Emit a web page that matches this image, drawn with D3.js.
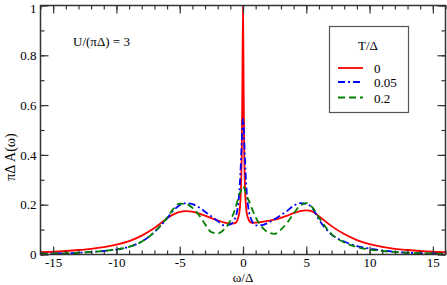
<!DOCTYPE html>
<html>
<head>
<meta charset="utf-8">
<script src="https://cdn.jsdelivr.net/npm/d3@7"></script>
<style>
  body { margin: 0; background: #fff; }
  svg { display: block; }
  text { font-family: "Liberation Serif", "DejaVu Serif", serif; fill: #000; }
</style>
</head>
<body>
<svg id="canvas" width="447" height="285"></svg>
<script>
// omega / Delta grid
let omega = [-16,-15,-14,-13,-12,-11,-10,-9,-8,-7,-6,-5.5,-5,-4.5,-4,-3.5,-3,-2.5,-2,-1.5,-1,-0.7,-0.5,-0.4,-0.3,-0.2,-0.1,-0.05,0,
             0.05,0.1,0.2,0.3,0.4,0.5,0.7,1,1.5,2,2.5,3,3.5,4,4.5,5,5.5,6,7,8,9,10,11,12,13,14,15,16]

// pi Delta A(omega), T/Delta = 0
let specT0 = [0.009,0.011,0.014,0.018,0.023,0.030,0.040,0.054,0.076,0.106,0.145,0.161,0.171,0.174,0.172,0.165,0.156,0.146,0.137,0.129,0.124,0.125,0.132,0.145,0.165,0.22,0.40,0.68,1.0,
              0.68,0.40,0.22,0.166,0.146,0.134,0.127,0.128,0.131,0.135,0.140,0.147,0.156,0.166,0.174,0.177,0.172,0.154,0.114,0.082,0.058,0.042,0.031,0.023,0.018,0.014,0.011,0.009]

// T/Delta = 0.05
let specT005 = [0.003,0.004,0.005,0.007,0.010,0.014,0.020,0.031,0.052,0.090,0.145,0.177,0.198,0.206,0.202,0.190,0.172,0.153,0.134,0.117,0.121,0.138,0.165,0.195,0.245,0.33,0.45,0.52,0.545,
                0.52,0.45,0.33,0.245,0.195,0.165,0.135,0.117,0.118,0.128,0.142,0.158,0.176,0.196,0.206,0.203,0.185,0.140,0.080,0.052,0.034,0.024,0.016,0.011,0.007,0.005,0.004,0.003]

// T/Delta = 0.2
let specT02 = [0.003,0.004,0.005,0.007,0.010,0.014,0.020,0.031,0.052,0.090,0.148,0.183,0.204,0.203,0.187,0.160,0.122,0.090,0.085,0.100,0.136,0.172,0.205,0.222,0.238,0.252,0.266,0.271,0.274,
               0.271,0.266,0.252,0.238,0.222,0.212,0.185,0.150,0.110,0.089,0.083,0.100,0.128,0.164,0.196,0.206,0.188,0.148,0.082,0.048,0.030,0.020,0.014,0.010,0.007,0.005,0.004,0.003]

let seriesNames = ["0", "0.05", "0.2"]
let seriesColors = ["#ff0000", "#0000ff", "#008000"]
let seriesDash = ["none", "7,3,2,3", "7,4"]
let seriesValues = [specT0, specT005, specT02]

let xTicks = [-15, -10, -5, 0, 5, 10, 15]
let yTicks = [0, 0.2, 0.4, 0.6, 0.8, 1]

let fontFamily = "'Liberation Serif', 'DejaVu Serif', serif"

let canvas = d3.select("#canvas")

let margin = { left: 40.5, right: 1.5, top: 5.5, bottom: 30.5 }
let width = 447 - margin.left - margin.right
let height = 285 - margin.top - margin.bottom

let xScale = d3.scaleLinear().domain([-16, 16]).range([margin.left, margin.left + width])
let yScale = d3.scaleLinear().domain([0, 1]).range([margin.top + height, margin.top])

let plot = canvas.append("g")

// clip so nothing spills over the frame
canvas.append("clipPath").attr("id", "clip")
    .append("rect")
    .attr("x", margin.left).attr("y", margin.top)
    .attr("width", width).attr("height", height)

let line = d3.line()
    .x((d) => xScale(d[0]))
    .y((d) => yScale(d[1]))
    .curve(d3.curveMonotoneX)

seriesValues.forEach((vals, i) => {
    let pts = omega.map((w, k) => [w, vals[k]])
    plot.append("path")
        .attr("clip-path", "url(#clip)")
        .attr("d", line(pts))
        .attr("fill", "none")
        .attr("stroke", seriesColors[i])
        .attr("stroke-width", 1.8)
        .attr("stroke-dasharray", seriesDash[i])
})

// axes: major + minor ticks, all pointing inward
let minorX = d3.range(-16, 16.5, 1)
let minorY = d3.range(0, 1.05, 0.1)

let styleAxis = (g) => {
    g.attr("font-family", fontFamily).attr("font-size", 13)
    g.select(".domain").remove()
    g.selectAll("line").attr("stroke", "#333").attr("stroke-width", 1.2)
    g.selectAll("text").style("font-family", fontFamily).style("font-size", "13px").attr("fill", "#000")
}

canvas.append("g")
    .attr("transform", "translate(0," + (margin.top + height) + ")")
    .call(d3.axisBottom(xScale).tickValues(minorX).tickSize(-4).tickFormat(""))
    .call(styleAxis)
canvas.append("g")
    .attr("transform", "translate(0," + (margin.top + height) + ")")
    .call(d3.axisBottom(xScale).tickValues(xTicks).tickSize(-8).tickPadding(3).tickFormat((d) => String(d)))
    .call(styleAxis)
canvas.append("g")
    .attr("transform", "translate(0," + margin.top + ")")
    .call(d3.axisTop(xScale).tickValues(minorX).tickSize(-4).tickFormat(""))
    .call(styleAxis)
canvas.append("g")
    .attr("transform", "translate(0," + margin.top + ")")
    .call(d3.axisTop(xScale).tickValues(xTicks).tickSize(-8).tickFormat(""))
    .call(styleAxis)

canvas.append("g")
    .attr("transform", "translate(" + margin.left + ",0)")
    .call(d3.axisLeft(yScale).tickValues(minorY).tickSize(-4).tickFormat(""))
    .call(styleAxis)
let yLabelAxis = canvas.append("g")
    .attr("transform", "translate(" + margin.left + ",0)")
    .call(d3.axisLeft(yScale).tickValues(yTicks).tickSize(-8).tickPadding(4).tickFormat((d) => String(d)))
    .call(styleAxis)
// keep the top label inside the picture
yLabelAxis.selectAll("text").filter((d) => d === 1).attr("dy", "0.5em")
canvas.append("g")
    .attr("transform", "translate(" + (margin.left + width) + ",0)")
    .call(d3.axisRight(yScale).tickValues(minorY).tickSize(-4).tickFormat(""))
    .call(styleAxis)
canvas.append("g")
    .attr("transform", "translate(" + (margin.left + width) + ",0)")
    .call(d3.axisRight(yScale).tickValues(yTicks).tickSize(-8).tickFormat(""))
    .call(styleAxis)

// frame
canvas.append("rect")
    .attr("x", margin.left).attr("y", margin.top)
    .attr("width", width).attr("height", height)
    .attr("fill", "none")
    .attr("stroke", "#333")
    .attr("stroke-width", 1.5)

// axis titles
canvas.append("text")
    .attr("x", xScale(0))
    .attr("y", 282)
    .attr("text-anchor", "middle")
    .style("font-family", fontFamily)
    .style("font-size", "13px")
    .text("ω/Δ")

canvas.append("text")
    .attr("transform", "translate(15,157) rotate(-90)")
    .attr("text-anchor", "middle")
    .style("font-family", fontFamily)
    .style("font-size", "14px")
    .text("πΔ A(ω)")

// annotation
canvas.append("text")
    .attr("x", 73)
    .attr("y", 45.5)
    .style("font-family", fontFamily)
    .style("font-size", "13px")
    .text("U/(πΔ) = 3")

// legend
let legend = canvas.append("g")
legend.append("rect")
    .attr("x", 329.5).attr("y", 26.5)
    .attr("width", 79).attr("height", 86)
    .attr("fill", "#fff")
    .attr("stroke", "#555")
    .attr("stroke-width", 1.2)
legend.append("text")
    .attr("x", 368)
    .attr("y", 50)
    .attr("text-anchor", "middle")
    .style("font-family", fontFamily)
    .style("font-size", "13px")
    .text("T/Δ")

let legendY = [68, 82, 97.5]
seriesNames.forEach((name, i) => {
    legend.append("line")
        .attr("x1", 338).attr("x2", 363)
        .attr("y1", legendY[i]).attr("y2", legendY[i])
        .attr("stroke", seriesColors[i])
        .attr("stroke-width", 1.8)
        .attr("stroke-dasharray", seriesDash[i])
    legend.append("text")
        .attr("x", 374)
        .attr("y", legendY[i] + 5)
        .style("font-family", fontFamily)
        .style("font-size", "13px")
        .text(name)
})
</script>
</body>
</html>
